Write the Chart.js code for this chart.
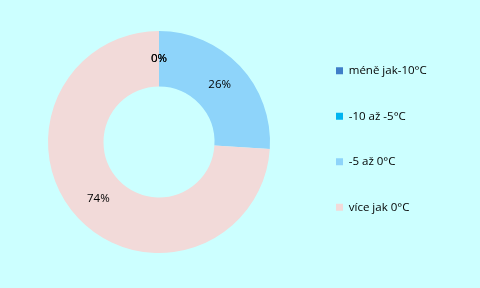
<!DOCTYPE html>
<html>
<head>
<meta charset="utf-8">
<script src="https://cdn.jsdelivr.net/npm/chart.js@4/dist/chart.umd.min.js"></script>
<style>
    html, body { margin: 0; padding: 0; background: #ccffff; }
    #wrap { width: 480px; height: 288px; position: relative; }
</style>
</head>
<body>
<div id="wrap"><canvas id="pieChart" width="480" height="288"></canvas></div>
<script>
// categories and values (percent of days)
var categories = ['méně jak-10°C', '-10 až -5°C', '-5 až 0°C', 'více jak 0°C'];
var values = [0, 0, 26, 74];
var colors = ['#3f7ec8', '#00b4f0', '#8ed4fa', '#f2dad9'];

var fontFamily = '"Open Sans", "Noto Sans", sans-serif';
var fontSize = 11.5;
var legendPad = 34;
var boxSize = 7;

// figure out how wide the legend will be so the ring stays where it should
function legendWidth() {
    var c = document.createElement('canvas').getContext('2d');
    c.font = fontSize + 'px ' + fontFamily;
    var w = 0;
    categories.forEach(function(t) { w = Math.max(w, c.measureText(t).width); });
    return legendPad + boxSize + fontSize / 2 + w + 10;
}
var padRight = Math.max(0, 480 - 302 - legendWidth());

// write the percentage in the middle of each slice
var sliceLabels = {
    id: 'sliceLabels',
    afterDatasetsDraw: function(chart) {
        var ctx = chart.ctx;
        var data = chart.data.datasets[0].data;
        var total = data.reduce(function(a, b) { return a + b; }, 0);
        ctx.save();
        ctx.font = fontSize + 'px ' + fontFamily;
        ctx.fillStyle = '#000';
        ctx.textAlign = 'center';
        ctx.textBaseline = 'middle';
        chart.getDatasetMeta(0).data.forEach(function(arc, i) {
            var p = arc.tooltipPosition();
            ctx.fillText(Math.round(data[i] / total * 100) + '%', p.x, p.y);
        });
        ctx.restore();
    }
};

new Chart(document.getElementById('pieChart'), {
    type: 'doughnut',
    data: {
        labels: categories,
        datasets: [{
            data: values,
            backgroundColor: colors,
            borderWidth: 0
        }]
    },
    options: {
        responsive: false,
        animation: false,
        cutout: '50%',
        layout: { padding: { left: 16, right: padRight, top: 31, bottom: 35 } },
        plugins: {
            tooltip: { enabled: false },
            legend: {
                position: 'right',
                align: 'start',
                labels: {
                    boxWidth: boxSize,
                    boxHeight: boxSize,
                    padding: legendPad,
                    color: '#000',
                    font: { family: fontFamily, size: fontSize }
                }
            }
        }
    },
    plugins: [sliceLabels]
});
</script>
</body>
</html>
